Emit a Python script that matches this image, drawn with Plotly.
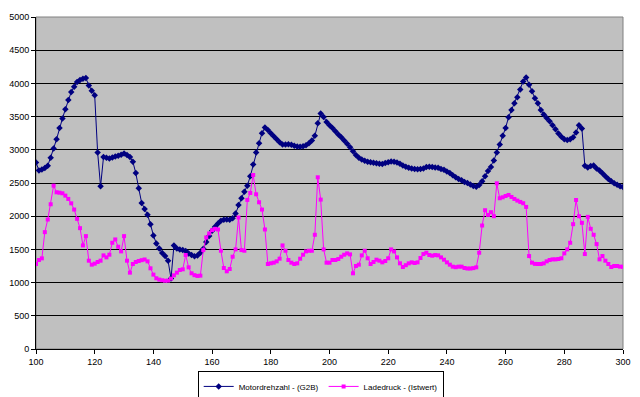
import plotly.graph_objects as go

x_start = 100
motordrehzahl = [
    2810, 2690, 2705, 2725, 2760, 2880, 3020, 3160, 3330, 3470,  # 100-109
    3610, 3750, 3870, 3950, 4020, 4050, 4070, 4080, 3970, 3890,  # 110-119
    3820, 2960, 2450, 2890, 2880, 2870, 2885, 2900, 2910, 2925,  # 120-129
    2945, 2920, 2890, 2820, 2650, 2420, 2200, 2110, 2020, 1880,  # 130-139
    1710, 1590, 1515, 1445, 1400, 1330, 1060, 1560, 1515, 1500,  # 140-149
    1490, 1475, 1440, 1415, 1395, 1410, 1450, 1510, 1610, 1700,  # 150-159
    1780, 1840, 1890, 1930, 1945, 1950, 1945, 1970, 2040, 2170,  # 160-169
    2270, 2370, 2460, 2600, 2780, 2960, 3100, 3250, 3335, 3300,  # 170-179
    3250, 3205, 3160, 3115, 3080, 3080, 3085, 3075, 3060, 3050,  # 180-189
    3045, 3055, 3070, 3100, 3140, 3210, 3400, 3545, 3495, 3420,  # 190-199
    3370, 3330, 3280, 3230, 3190, 3140, 3090, 3040, 2980, 2920,  # 200-209
    2880, 2855, 2835, 2820, 2812, 2805, 2798, 2790, 2788, 2800,  # 210-219
    2812, 2822, 2820, 2808, 2790, 2765, 2745, 2730, 2720, 2712,  # 220-229
    2706, 2710, 2720, 2740, 2746, 2740, 2735, 2730, 2712, 2698,  # 230-239
    2675, 2650, 2615, 2585, 2560, 2540, 2515, 2500, 2478, 2455,  # 240-249
    2445, 2470, 2525, 2600, 2680, 2740, 2840, 2960, 3080, 3210,  # 250-259
    3330, 3490, 3600, 3700, 3790, 3910, 4030, 4090, 3980, 3880,  # 260-269
    3775, 3700, 3600, 3530, 3480, 3430, 3370, 3310, 3245, 3195,  # 270-279
    3160, 3148, 3160, 3190, 3260, 3370, 3320, 2760, 2735, 2756,  # 280-289
    2765, 2720, 2690, 2648, 2600, 2560, 2525, 2495, 2475, 2450,  # 290-299
    2440,                                                        # 300
]
ladedruck = [
    1280, 1340, 1365, 1760, 1950, 2180, 2460, 2360, 2354, 2345,  # 100-109
    2310, 2260, 2194, 2100, 1960, 1820, 1560, 1700, 1330, 1270,  # 110-119
    1285, 1310, 1330, 1410, 1380, 1420, 1600, 1650, 1540, 1470,  # 120-129
    1700, 1330, 1150, 1280, 1310, 1325, 1338, 1348, 1320, 1215,  # 130-139
    1120, 1065, 1045, 1035, 1028, 1030, 1060, 1110, 1150, 1190,  # 140-149
    1200, 1416, 1230, 1140, 1112, 1100, 1105, 1490, 1680, 1740,  # 150-159
    1790, 1810, 1800, 1480, 1220, 1170, 1205, 1390, 1500, 1980,  # 160-169
    1490, 1480, 2245, 2350, 2620, 2330, 2210, 2100, 1800, 1280,  # 170-179
    1291, 1300, 1320, 1360, 1560, 1480, 1340, 1300, 1280, 1290,  # 180-189
    1360, 1420, 1470, 1480, 1480, 1720, 2586, 2250, 1500, 1300,  # 190-199
    1300, 1340, 1340, 1355, 1390, 1420, 1440, 1425, 1140, 1250,  # 200-209
    1270, 1410, 1480, 1366, 1280, 1310, 1345, 1330, 1305, 1325,  # 210-219
    1366, 1500, 1470, 1380, 1290, 1235, 1262, 1290, 1305, 1295,  # 220-229
    1305, 1370, 1430, 1450, 1416, 1405, 1415, 1410, 1380, 1345,  # 230-239
    1305, 1270, 1240, 1232, 1240, 1240, 1220, 1212, 1212, 1218,  # 240-249
    1230, 1450, 1860, 2090, 2020, 2060, 2000, 2495, 2270, 2285,  # 250-259
    2304, 2320, 2290, 2260, 2235, 2215, 2195, 2140, 1400, 1300,  # 260-269
    1282, 1280, 1280, 1290, 1320, 1340, 1350, 1350, 1355, 1366,  # 270-279
    1440, 1500, 1600, 1880, 2244, 2000, 1900, 1430, 1990, 1810,  # 280-289
    1720, 1580, 1350, 1400, 1330, 1280, 1235, 1250, 1250, 1240,  # 290-299
    1240,                                                        # 300
]
x_vals = [x_start + i for i in range(len(motordrehzahl))]
x_ticks = [100, 120, 140, 160, 180, 200, 220, 240, 260, 280, 300]
y_ticks = [0, 500, 1000, 1500, 2000, 2500, 3000, 3500, 4000, 4500, 5000]

font = "Arial, Liberation Sans, sans-serif"

fig = go.Figure()
fig.add_trace(go.Scatter(
    x=x_vals, y=motordrehzahl, mode="lines+markers",
    name="Motordrehzahl - (G2B)",
    line=dict(color="#000080", width=1),
    marker=dict(symbol="diamond", size=5, color="#000080"),
))
fig.add_trace(go.Scatter(
    x=x_vals, y=ladedruck, mode="lines+markers",
    name="Ladedruck - (Istwert)",
    line=dict(color="#FF00FF", width=1),
    marker=dict(symbol="square", size=4, color="#FF00FF"),
))

# page body has an 8px default margin: figure is sized/offset to compensate
fig.update_layout(
    width=632, height=389,
    margin=dict(l=28, r=17, t=9, b=48, autoexpand=False),
    paper_bgcolor="white",
    plot_bgcolor="#C0C0C0",
    font=dict(family=font, size=9, color="black"),
    showlegend=True,
    legend=dict(
        orientation="h", x=0.485, xanchor="center", y=-0.066, yanchor="top",
        bordercolor="black", borderwidth=1, bgcolor="white",
        font=dict(family=font, size=8, color="black"),
        itemwidth=30, tracegroupgap=0,
    ),
    xaxis=dict(
        range=[100, 300], tickvals=x_ticks, ticks="outside", ticklen=4,
        tickcolor="black", showgrid=False, zeroline=False, automargin=False,
        showline=True, linecolor="black", linewidth=1,
        tickfont=dict(family=font, size=9, color="black"),
    ),
    yaxis=dict(
        range=[0, 5000], tickvals=y_ticks, ticks="outside", ticklen=4,
        tickcolor="black", showgrid=True, gridcolor="black", gridwidth=1,
        zeroline=False, showline=True, linecolor="black", linewidth=1,
        automargin=False,
        tickfont=dict(family=font, size=9, color="black"),
    ),
)
fig.add_shape(type="rect", xref="paper", yref="paper", x0=0, y0=0, x1=1, y1=1,
              line=dict(color="#808080", width=1), layer="below")

fig.write_html("out.html")
